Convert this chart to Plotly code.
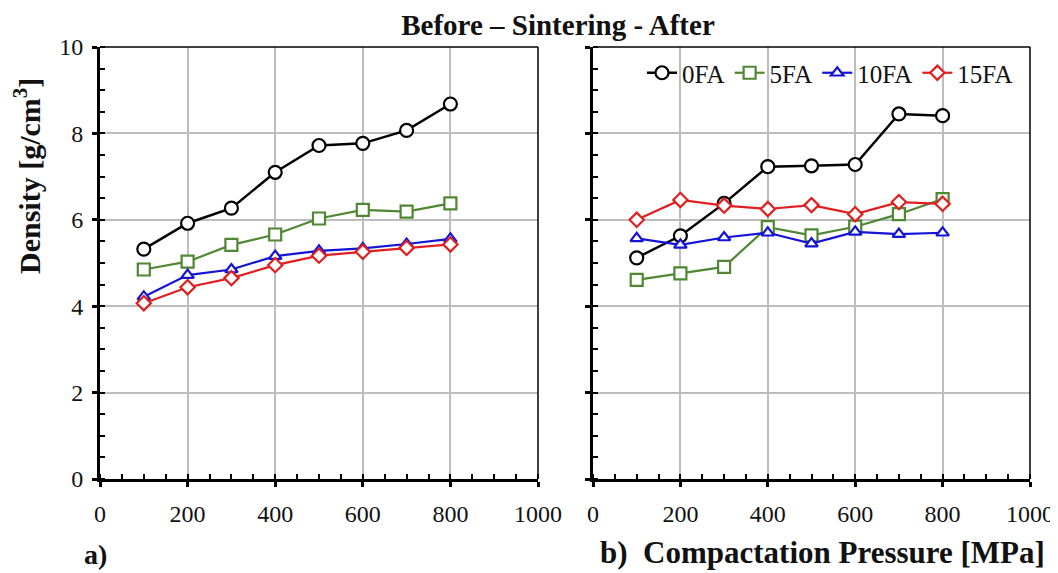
import plotly.graph_objects as go

pressure = [100, 200, 300, 400, 500, 600, 700, 800]
series_names = ["0FA", "5FA", "10FA", "15FA"]

# a) Before sintering
before_0FA = [5.32, 5.92, 6.27, 7.10, 7.72, 7.77, 8.07, 8.68]
before_5FA = [4.85, 5.03, 5.42, 5.66, 6.03, 6.23, 6.19, 6.38]
before_10FA = [4.22, 4.72, 4.85, 5.16, 5.28, 5.34, 5.44, 5.56]
before_15FA = [4.07, 4.44, 4.65, 4.95, 5.17, 5.26, 5.35, 5.43]

# b) After sintering
after_0FA = [5.12, 5.63, 6.38, 7.23, 7.25, 7.28, 8.45, 8.41]
after_5FA = [4.61, 4.76, 4.91, 5.83, 5.64, 5.84, 6.13, 6.48]
after_10FA = [5.57, 5.42, 5.59, 5.70, 5.45, 5.72, 5.67, 5.70]
after_15FA = [6.00, 6.46, 6.33, 6.25, 6.34, 6.13, 6.41, 6.37]

x_ticks = [0, 200, 400, 600, 800, 1000]
y_ticks = [0, 2, 4, 6, 8, 10]

FONT = "Liberation Serif, Times New Roman, serif"
styles = {
    "0FA": dict(color="#000000", symbol="circle", size=13, lw=2.5),
    "5FA": dict(color="#4f8733", symbol="square", size=12, lw=2.2),
    "10FA": dict(color="#1414d6", symbol="triangle-up", size=11, lw=2.2),
    "15FA": dict(color="#e02020", symbol="diamond", size=11, lw=2.2),
}

fig = go.Figure()
for data, xa, ya, show in [
    ([before_0FA, before_5FA, before_10FA, before_15FA], "x", "y", False),
    ([after_0FA, after_5FA, after_10FA, after_15FA], "x2", "y2", True),
]:
    for name, vals in zip(series_names, data):
        s = styles[name]
        fig.add_trace(go.Scatter(
            x=pressure, y=vals, name=name, mode="lines+markers",
            xaxis=xa, yaxis=ya, showlegend=show,
            line=dict(color=s["color"], width=s["lw"]),
            marker=dict(symbol=s["symbol"], size=s["size"], color="white",
                        line=dict(color=s["color"], width=2.2)),
        ))

tickfont = dict(family=FONT, size=24, color="#111")

def xaxis_cfg(domain, anchor):
    return dict(
        domain=domain, anchor=anchor, range=[0, 1000], tickvals=x_ticks, ticks="outside",
        ticklen=5, tickwidth=2.5, tickcolor="black", showline=True,
        linecolor="black", linewidth=3, showgrid=True, gridcolor="#bdbdbd",
        gridwidth=1.6, zeroline=False, tickfont=tickfont, ticklabelstandoff=6,
        automargin=False,
        minor=dict(dtick=50, ticks="inside", ticklen=5, tickwidth=2,
                   tickcolor="black", showgrid=False),
    )

def yaxis_cfg(anchor, labels):
    return dict(
        domain=[0, 1], range=[0, 10], tickvals=y_ticks, ticks="outside",
        ticklen=5, tickwidth=2.5, tickcolor="black", showline=True,
        linecolor="black", linewidth=3, showgrid=True, gridcolor="#bdbdbd",
        gridwidth=1.6, zeroline=False, tickfont=tickfont, anchor=anchor,
        showticklabels=labels, ticklabelstandoff=4, automargin=False,
        minor=dict(dtick=0.5, ticks="inside", ticklen=5, tickwidth=2,
                   tickcolor="black", showgrid=False),
    )

def inner_ticks_x(over, anchor):
    return dict(overlaying=over, anchor=anchor, range=[0, 1000], tickvals=x_ticks,
                ticks="inside", ticklen=5, tickwidth=2.5, tickcolor="black",
                showticklabels=False, showgrid=False, zeroline=False, showline=False,
                automargin=False)

def inner_ticks_y(over, anchor):
    return dict(overlaying=over, anchor=anchor, range=[0, 10], tickvals=y_ticks,
                ticks="inside", ticklen=5, tickwidth=2.5, tickcolor="black",
                showticklabels=False, showgrid=False, zeroline=False, showline=False,
                automargin=False)

d1 = [0, 438 / 930]
d2 = [493 / 930, 1]

# page has an 8px body margin: figure is 1050x565 placed at (8, 8)
W, H, OFF = 1050, 565, 8

fig.update_layout(
    width=W, height=H,
    margin=dict(l=100 - OFF, r=28, t=47 - OFF, b=94, autoexpand=False),
    paper_bgcolor="white", plot_bgcolor="white",
    font=dict(family=FONT, color="#111"),
    xaxis=xaxis_cfg(d1, "y"),
    yaxis=yaxis_cfg("x", True),
    xaxis2=xaxis_cfg(d2, "y2"),
    yaxis2=yaxis_cfg("x2", False),
    xaxis3=inner_ticks_x("x", "y"),
    yaxis3=inner_ticks_y("y", "x"),
    xaxis4=inner_ticks_x("x2", "y2"),
    yaxis4=inner_ticks_y("y2", "x2"),
    showlegend=True,
    legend=dict(orientation="h", x=(1018 - 100) / 930, xanchor="right",
                y=(479 - 73) / 432, yanchor="middle",
                font=dict(family=FONT, size=25, color="#111"),
                bgcolor="rgba(0,0,0,0)", itemwidth=30, tracegroupgap=0),
    title=dict(text="<b>Before – Sintering - After</b>", x=(558 - OFF) / W, xanchor="center",
               y=1 - (25 - OFF) / H, yanchor="middle",
               font=dict(family=FONT, size=29, color="#111")),
)

# thin top/right frame lines
for xr, yr in [("x domain", "y domain"), ("x2 domain", "y2 domain")]:
    fig.add_shape(type="line", xref=xr, yref=yr, x0=0, x1=1, y0=1, y1=1,
                  line=dict(color="black", width=1.5))
    fig.add_shape(type="line", xref=xr, yref=yr, x0=1, x1=1, y0=0, y1=1,
                  line=dict(color="black", width=1.5))

fig.add_annotation(text="<b>Density [g/cm<sup>3</sup>]</b>", xref="paper", yref="paper",
                   x=(27 - 100) / 930, y=(479 - 176) / 432, xanchor="center", yanchor="middle",
                   textangle=-90, showarrow=False,
                   font=dict(family=FONT, size=30, color="#111"))
fig.add_annotation(text="<b>a)</b>", xref="paper", yref="paper",
                   x=(82 - 100) / 930, y=-(554 - 479) / 432, xanchor="left", yanchor="middle",
                   showarrow=False, font=dict(family=FONT, size=28, color="#111"))
fig.add_annotation(text="<b>b)  Compactation Pressure [MPa]</b>", xref="paper", yref="paper",
                   x=(598 - 100) / 930, y=-(552 - 479) / 432, xanchor="left", yanchor="middle",
                   showarrow=False, font=dict(family=FONT, size=31, color="#111"))

fig.write_html("out.html")
